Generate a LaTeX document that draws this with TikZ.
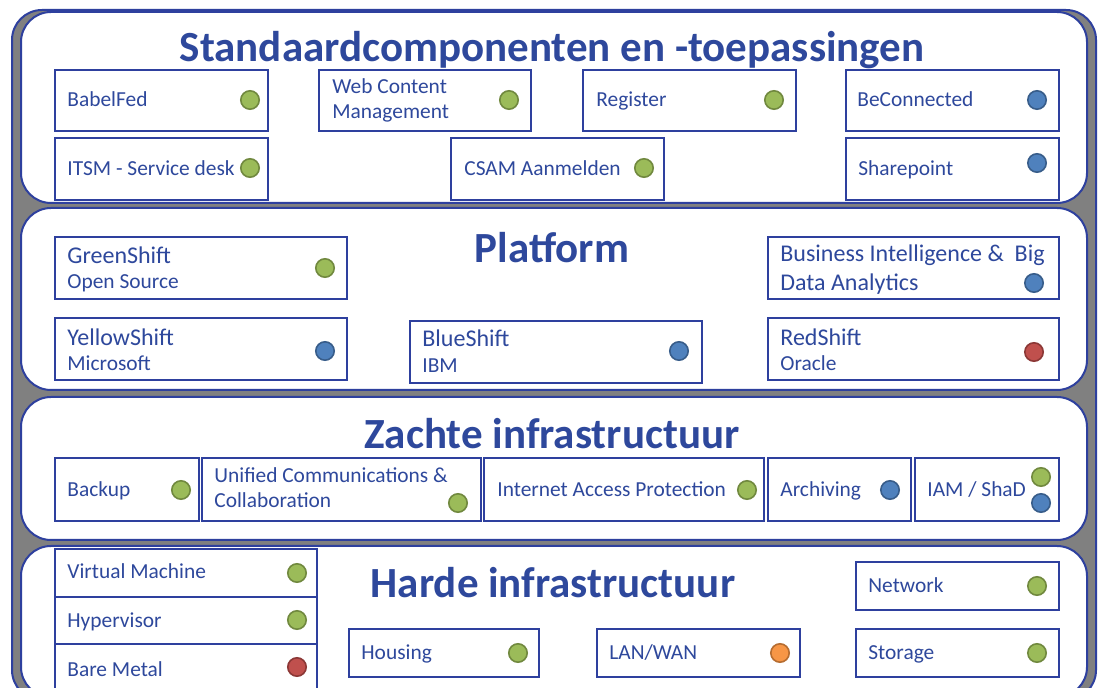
\documentclass[tikz,border=0pt]{standalone}
\usepackage{fontspec}
\setmainfont{Carlito}

\definecolor{ink}{RGB}{46,72,156}
\definecolor{edge}{RGB}{46,64,158}
\definecolor{shade}{RGB}{128,128,128}
\definecolor{dgreen}{RGB}{155,187,89}
\definecolor{dgreenrim}{RGB}{113,137,63}
\definecolor{dblue}{RGB}{79,129,189}
\definecolor{dbluerim}{RGB}{56,93,138}
\definecolor{dred}{RGB}{192,80,77}
\definecolor{dredrim}{RGB}{140,56,54}
\definecolor{dorange}{RGB}{247,150,70}
\definecolor{dorangerim}{RGB}{182,109,49}

\tikzset{
    panel/.style={draw=edge, fill=white, line width=1pt, rounded corners=15pt},
    box/.style={draw=edge, fill=white, line width=1.2pt},
    lbl/.style={anchor=base west, inner sep=0pt, text=ink, font=\fontsize{10.7}{12}\selectfont},
    biglbl/.style={lbl, font=\fontsize{12}{14}\selectfont},
    layer/.style={anchor=base, inner sep=0pt, text=ink, font=\fontsize{21.5}{26}\selectfont\bfseries},
    dot/.style={circle, minimum size=9.2pt, inner sep=0pt, line width=0.8pt},
    gdot/.style={dot, fill=dgreen, draw=dgreenrim},
    bdot/.style={dot, fill=dblue, draw=dbluerim},
    rdot/.style={dot, fill=dred, draw=dredrim},
    odot/.style={dot, fill=dorange, draw=dorangerim}
}

\begin{document}
\begin{tikzpicture}[x=0.5pt, y=-0.5pt]
    \useasboundingbox (0,0) rectangle (1102,688);
    \clip (0,0) rectangle (1102,688);
    \fill[white] (0,0) rectangle (1102,688);

    % frame behind the layers
    \draw[draw=edge, fill=shade, line width=1pt, rounded corners=15pt] (12,10) rectangle (1096,700);

    % Standaardcomponenten en -toepassingen
    \draw[panel] (21,12) rectangle (1087,203);
    \node[layer] (std) at (552,62) {Standaardcomponenten en -toepassingen};

    \draw[box] (55,70) rectangle (268,131);
    \node[lbl] (babelfed) at (67,107) {BabelFed};
    \node[gdot] (babelfeddot) at (250,100) {};

    \draw[box] (319,70) rectangle (531,131);
    \node[lbl] (wcm) at (332,94) {Web Content};
    \node[lbl] (wcm2) at (332,119) {Management};
    \node[gdot] (wcmdot) at (509,100) {};

    \draw[box] (583,70) rectangle (796,131);
    \node[lbl] (register) at (596,107) {Register};
    \node[gdot] (registerdot) at (774,100) {};

    \draw[box] (846,70) rectangle (1059,131);
    \node[lbl] (beconnected) at (857,107) {BeConnected};
    \node[bdot] (beconnecteddot) at (1037,100) {};

    \draw[box] (55,138) rectangle (268,200);
    \node[lbl] (itsm) at (67,176) {ITSM - Service desk};
    \node[gdot] (itsmdot) at (250,168) {};

    \draw[box] (451,138) rectangle (664,200);
    \node[lbl] (csam) at (464,176) {CSAM Aanmelden};
    \node[gdot] (csamdot) at (644,168) {};

    \draw[box] (846,138) rectangle (1059,200);
    \node[lbl] (sharepoint) at (858,176) {Sharepoint};
    \node[bdot] (sharepointdot) at (1037,163) {};

    % Platform
    \draw[panel] (21,208) rectangle (1087,390);
    \node[layer] (platform) at (552,263) {Platform};

    \draw[box] (55,237) rectangle (347,299);
    \node[biglbl] (greenshift) at (67,264) {GreenShift};
    \node[lbl] (greenshift2) at (67,289) {Open Source};
    \node[gdot] (greenshiftdot) at (325,268) {};

    \draw[box] (55,318) rectangle (347,380);
    \node[biglbl] (yellowshift) at (67,346) {YellowShift};
    \node[lbl] (yellowshift2) at (67,371) {Microsoft};
    \node[bdot] (yellowshiftdot) at (325,351) {};

    \draw[box] (410,321) rectangle (702,383);
    \node[biglbl] (blueshift) at (422,347) {BlueShift};
    \node[lbl] (blueshift2) at (422,373) {IBM};
    \node[bdot] (blueshiftdot) at (679,351) {};

    \draw[box] (768,237) rectangle (1059,299);
    \node[biglbl] (bi) at (780,262) {Business Intelligence \&~~Big};
    \node[biglbl] (bi2) at (780,291) {Data Analytics};
    \node[bdot] (bidot) at (1034,283) {};

    \draw[box] (768,318) rectangle (1059,380);
    \node[biglbl] (redshift) at (780,346) {RedShift};
    \node[lbl] (redshift2) at (780,371) {Oracle};
    \node[rdot] (redshiftdot) at (1034,352) {};

    % Zachte infrastructuur
    \draw[panel] (21,397) rectangle (1087,540);
    \node[layer] (zacht) at (552,449) {Zachte infrastructuur};

    \draw[box] (55,458) rectangle (199,521);
    \node[lbl] (backup) at (67,497) {Backup};
    \node[gdot] (backupdot) at (181,490) {};

    \draw[box] (202,458) rectangle (481,521);
    \node[lbl] (ucc) at (214,483) {Unified Communications \&};
    \node[lbl] (ucc2) at (214,508) {Collaboration};
    \node[gdot] (uccdot) at (458,503) {};

    \draw[box] (484,458) rectangle (764,521);
    \node[lbl] (iap) at (497,497) {Internet Access Protection};
    \node[gdot] (iapdot) at (747,490) {};

    \draw[box] (768,458) rectangle (911,521);
    \node[lbl] (archiving) at (780,497) {Archiving};
    \node[bdot] (archivingdot) at (890,490) {};

    \draw[box] (915,458) rectangle (1059,521);
    \node[lbl] (iam) at (927,497) {IAM / ShaD};
    \node[gdot] (iamdot) at (1041,477) {};
    \node[bdot] (iamdot2) at (1041,503) {};

    % Harde infrastructuur
    \draw[panel] (21,546) rectangle (1087,697);
    \node[layer] (hard) at (553,598) {Harde infrastructuur};

    \draw[box] (55,549) rectangle (317,597);
    \draw[box] (55,597) rectangle (317,644);
    \draw[box] (55,644) rectangle (317,700);
    \node[lbl] (vm) at (67,579) {Virtual Machine};
    \node[lbl] (hypervisor) at (67,627) {Hypervisor};
    \node[lbl] (baremetal) at (67,676) {Bare Metal};
    \node[gdot] (vmdot) at (297,573) {};
    \node[gdot] (hypervisordot) at (297,620) {};
    \node[rdot] (baremetaldot) at (297,667) {};

    \draw[box] (349,629) rectangle (539,677);
    \node[lbl] (housing) at (361,660) {Housing};
    \node[gdot] (housingdot) at (518,653) {};

    \draw[box] (597,629) rectangle (800,677);
    \node[lbl] (lanwan) at (609,660) {LAN/WAN};
    \node[odot] (lanwandot) at (780,653) {};

    \draw[box] (856,562) rectangle (1059,610);
    \node[lbl] (network) at (868,593) {Network};
    \node[gdot] (networkdot) at (1037,586) {};

    \draw[box] (856,629) rectangle (1059,677);
    \node[lbl] (storage) at (868,660) {Storage};
    \node[gdot] (storagedot) at (1037,653) {};
\end{tikzpicture}
\end{document}
